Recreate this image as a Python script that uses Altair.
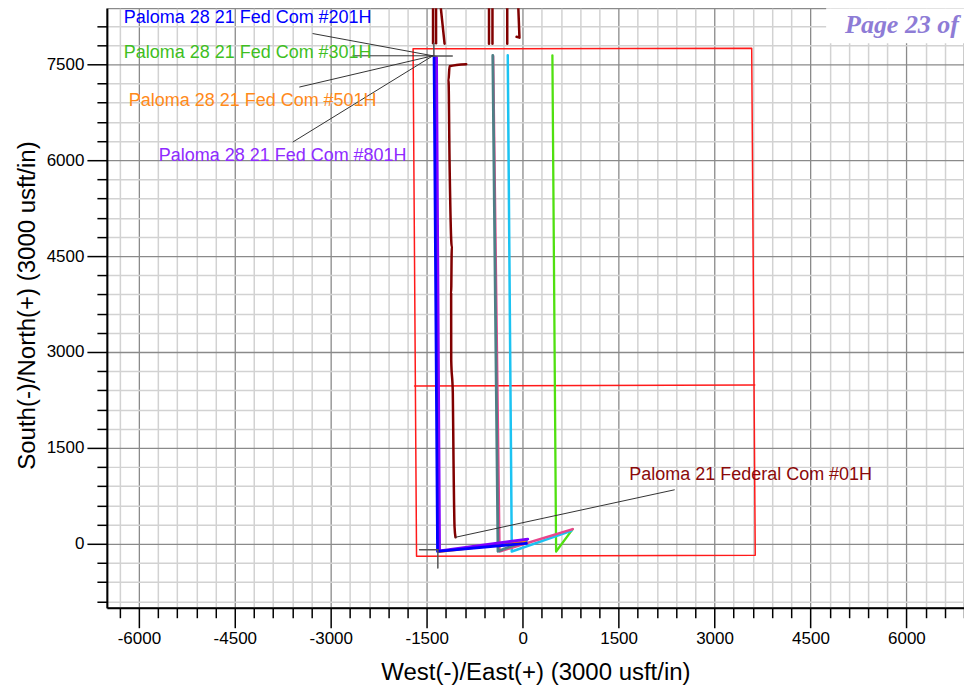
import altair as alt
import pandas as pd

# ---------------- axis ticks ----------------
x_ticks = list(range(-6300, 6901, 300))
y_ticks = list(range(-900, 8376, 300))
x_domain = [-6500, 6900]
y_domain = [-1000, 8375]

# ---------------- well paths (usft) ----------------
w201_x = [59, -1331, -1385]
w201_y = [8, -117, 7625]
w501_x = [28, -1307, -1362]
w501_y = [31, -125, 7610]
w801_x = [80, -1299, -1346]
w801_y = [73, -109, 7609]
teal_x = [59, -386, -467]
teal_y = [47, -117, 7641]
pink_x = [782, -362, -462]
pink_y = [230, -120, 7625]
cyan_x = [760, -170, -233]
cyan_y = [203, -120, 7641]
green_x = [782, 523, 465]
green_y = [230, -120, 7641]
w01_x = [-882, -1143, -1159, -1143, -1108, -1118, -1117, -1092, -1081, -1065, -1050]
w01_y = [7500, 7469, 7250, 6000, 4641, 3922, 2875, 2359, 1313, 266, 102]

# offset wells entering from the north (cut off at top)
north_id = [1, 1, 2, 2, 3, 3, 4, 4, 5, 5, 6, 6, 7, 7, 7]
north_x = [-1401, -1401, -1354, -1354, -1292, -1221, -526, -526, -472, -472, -241, -241, -76, -50, -95]
north_y = [8600, 7828, 8600, 7828, 8500, 7823, 8600, 7823, 8600, 7823, 8600, 7823, 8600, 7917, 7930]

# lease boundary
lease_x = [-1713, 3581, 3636, -1659, -1713]
lease_y = [7742, 7750, -180, -195, 7742]
mid_x = [-1690, 3628]
mid_y = [2469, 2484]

# reference crosses
cross_id = [1, 1, 2, 2, 3, 3, 4, 4]
cross_x = [-1404, -1101, -1388, -1388, -1612, -1326, -1326, -1326]
cross_y = [7630, 7630, 7828, 7630, -94, -94, -94, -380]

# label leader lines
lead_id = [1, 1, 2, 2, 3, 3, 4, 4, 5, 5]
lead_x = [-3278, -1404, -2653, -1404, -3486, -1404, -3590, -1404, -1050, 2371]
lead_y = [7980, 7633, 7633, 7633, 7145, 7633, 6286, 7633, 102, 844]

# labels
label_text = ["Paloma 28 21 Fed Com #201H", "Paloma 28 21 Fed Com #301H",
              "Paloma 28 21 Fed Com #501H", "Paloma 28 21 Fed Com #801H",
              "Paloma 21 Federal Com #01H"]
label_x = [-6235, -6235, -6157, -5688, 1668]
label_y = [8219, 7672, 6922, 6063, 1078]
label_color = ["#0000FF", "#3FBF1F", "#FF8A1A", "#8F2BFF", "#8B0A0A"]

page_text = ["Page 23 of"]
page_x = [5040]
page_y = [7984]

# ---------------- helpers ----------------
MAJ = "datum.value % 1500 === 0"
FONT = "Liberation Sans"


def make_axis(values, title, **kw):
    return alt.Axis(
        values=values, title=title, grid=True,
        gridColor={"condition": {"test": MAJ, "value": "#8a8a8a"}, "value": "#d2d2d2"},
        gridWidth={"condition": {"test": MAJ, "value": 1.3}, "value": 1.5},
        tickSize={"condition": {"test": MAJ, "value": 20}, "value": 10},
        tickColor="black", tickWidth=1.5, domainColor="black", domainWidth=2,
        labelExpr=f"{MAJ} ? '' + datum.value : ''",
        labelFont=FONT, labelFontSize=17, labelColor="black", labelPadding=3,
        labelOverlap=False, labelFlush=False,
        titleFont=FONT, titleFontSize=24, titleFontWeight="normal", titleColor="black",
        **kw)


xaxis = make_axis(x_ticks, "West(-)/East(+) (3000 usft/in)", titleY=72, titleBaseline="alphabetic")
yaxis = make_axis(y_ticks, "South(-)/North(+) (3000 usft/in)", titleX=-72, titleY=297,
                  titleAngle=270, titleBaseline="alphabetic")


def X():
    return alt.X("x:Q", scale=alt.Scale(domain=x_domain, nice=False, zero=False), axis=xaxis)


def Y():
    return alt.Y("y:Q", scale=alt.Scale(domain=y_domain, nice=False, zero=False), axis=yaxis)


def path(xs, ys, color, width, ids=None, clip=True, **kw):
    df = pd.DataFrame({"x": xs, "y": ys, "i": range(len(xs)),
                       "g": ids if ids is not None else [0] * len(xs)})
    return alt.Chart(df).mark_line(color=color, strokeWidth=width, clip=clip,
                                   strokeCap="round", strokeJoin="round", **kw).encode(
        x=X(), y=Y(), order="i:Q", detail="g:N")


layers = []
# white box behind page header
layers.append(alt.Chart(pd.DataFrame({"a": [0]})).mark_rect(color="white").encode(
    x=alt.value(720), x2=alt.value(858), y=alt.value(0), y2=alt.value(35)))
# lease boundary
layers.append(path(lease_x, lease_y, "#FF1a1a", 1.5))
layers.append(path(mid_x, mid_y, "#FF1a1a", 1.5))
# maroon wells
layers.append(path(north_x, north_y, "#800000", 2.5, ids=north_id))
layers.append(path(w01_x, w01_y, "#800000", 2.5, interpolate="monotone"))
# well laterals
layers.append(path(green_x, green_y, "#50E010", 2.3))
layers.append(path(cyan_x, cyan_y, "#1CC3F2", 2.5))
layers.append(path(pink_x, pink_y, "#E8468C", 2.5))
layers.append(path(teal_x, teal_y, "#4E7F86", 2.8))
layers.append(path(w501_x, w501_y, "#FF8000", 2.5))
layers.append(path(w801_x, w801_y, "#8000FF", 2.8))
layers.append(path(w201_x, w201_y, "#0000FF", 2.8))
# reference crosses and leader lines
layers.append(path(cross_x, cross_y, "#555555", 1.5, ids=cross_id))
layers.append(path(lead_x, lead_y, "#333333", 1, ids=lead_id))

# labels
lab_df = pd.DataFrame({"x": label_x, "y": label_y, "t": label_text, "c": label_color})
layers.append(alt.Chart(lab_df).mark_text(align="left", baseline="middle", font=FONT,
                                          fontSize=18).encode(
    x=X(), y=Y(), text="t:N", color=alt.Color("c:N", scale=None)))

page_df = pd.DataFrame({"x": page_x, "y": page_y, "t": page_text})
layers.append(alt.Chart(page_df).mark_text(align="left", baseline="alphabetic",
                                           font="Liberation Serif", fontSize=26,
                                           fontStyle="italic", fontWeight="bold",
                                           color="#8E7CD6").encode(
    x=X(), y=Y(), text="t:N"))

chart = alt.layer(*layers).properties(
    width=858, height=600,
    autosize=alt.AutoSizeParams(type="none"),
    padding={"left": 99, "top": 0, "right": 0, "bottom": 80},
    background="white",
).configure_view(stroke="#8a8a8a", strokeWidth=1.3)

chart.save("out.html", embed_options={"renderer": "svg", "actions": False})
